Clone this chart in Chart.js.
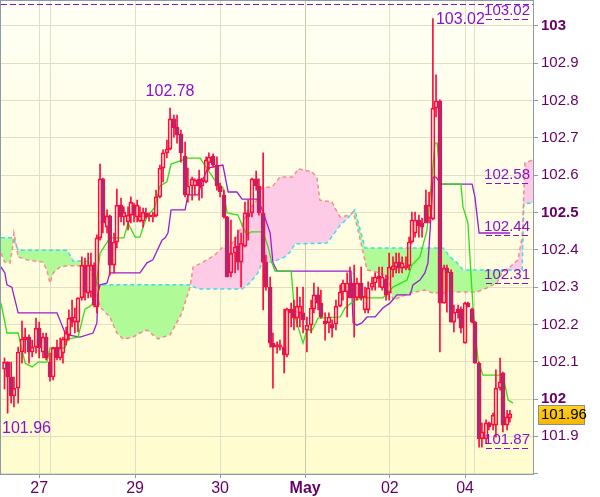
<!DOCTYPE html>
<html>
<head>
<meta charset="utf-8">
<script src="https://cdn.jsdelivr.net/npm/chart.js@4.4.1/dist/chart.umd.min.js"></script>
<style>
  html, body { margin: 0; padding: 0; background: #fff; overflow: hidden; }
  canvas { display: block; }
</style>
</head>
<body>
<canvas id="chart" width="600" height="497"></canvas>
<script>
// hourly candles, time in hours from the left edge
const hours = [
  1.0, 1.9, 2.9, 3.7, 4.9, 6.0, 6.9, 8.0, 8.9, 10.0,
  10.9, 12.0, 12.9, 14.0, 14.9, 16.0, 16.9, 17.7, 18.6, 19.4,
  20.3, 21.1, 22.0, 23.1, 24.0, 24.9, 25.7, 26.6, 27.4, 28.3,
  29.1, 30.3, 31.1, 32.3, 33.1, 34.3, 35.1, 36.3, 37.1, 38.0,
  38.9, 39.7, 40.6, 41.4, 42.3, 43.4, 44.3, 45.4, 46.3, 47.4,
  48.3, 49.4, 50.3, 51.4, 52.6, 53.4, 54.6, 55.4, 56.6, 57.4,
  58.6, 59.4, 60.6, 61.7, 62.6, 63.7, 64.6, 65.7, 66.9, 67.7,
  68.6, 69.7, 70.6, 71.7, 72.9, 73.7, 74.9, 75.7, 76.9, 77.7,
  78.9, 79.7, 80.9, 81.7, 82.9, 83.7, 84.6, 85.4, 86.3, 87.4,
  88.6, 89.4, 90.6, 91.4, 92.6, 93.7, 94.6, 95.7, 96.9, 97.7,
  98.9, 99.7, 100.9, 101.7, 102.9, 104.0, 104.9, 106.0, 106.9, 108.0,
  108.9, 110.0, 110.9, 112.0, 112.9, 113.7, 114.6, 115.7, 116.6, 117.4,
  118.3, 119.4, 120.3, 121.4, 122.3, 123.4, 124.3, 125.4, 126.6, 127.4,
  128.6, 129.4, 130.6, 131.4, 132.6, 133.4, 134.6, 135.4, 136.6, 137.4,
  138.6, 139.4, 140.6, 141.4, 142.6, 143.4, 144.6, 145.4
];
const opens = [
  102.080, 102.099, 102.059, 102.008, 102.029, 102.126, 102.158, 102.166, 102.126, 102.139,
  102.190, 102.126, 102.166, 102.099, 102.059, 102.139, 102.110, 102.123, 102.158, 102.172,
  102.220, 102.206, 102.206, 102.271, 102.357, 102.284, 102.287, 102.359, 102.247, 102.432,
  102.590, 102.461, 102.491, 102.359, 102.421, 102.520, 102.488, 102.475, 102.493, 102.520,
  102.488, 102.477, 102.477, 102.499, 102.488, 102.488, 102.491, 102.542, 102.619, 102.660,
  102.670, 102.751, 102.729, 102.710, 102.651, 102.547, 102.571, 102.571, 102.590, 102.571,
  102.582, 102.633, 102.651, 102.627, 102.571, 102.547, 102.488, 102.338, 102.391, 102.410,
  102.367, 102.410, 102.499, 102.499, 102.590, 102.571, 102.499, 102.367, 102.300, 102.150,
  102.139, 102.139, 102.139, 102.118, 102.241, 102.239, 102.217, 102.231, 102.231, 102.185,
  102.198, 102.241, 102.279, 102.257, 102.209, 102.204, 102.201, 102.201, 102.249, 102.287,
  102.287, 102.311, 102.311, 102.271, 102.311, 102.239, 102.239, 102.300, 102.311, 102.330,
  102.298, 102.322, 102.284, 102.346, 102.354, 102.367, 102.351, 102.351, 102.357, 102.421,
  102.445, 102.480, 102.472, 102.520, 102.485, 102.483, 102.780, 102.799, 102.257, 102.351,
  102.340, 102.206, 102.241, 102.241, 102.150, 102.257, 102.241, 102.206, 102.096, 101.893,
  101.893, 101.936, 101.930, 101.930, 102.029, 102.070, 101.930, 101.949
];
const highs = [
  102.110, 102.100, 102.099, 102.059, 102.139, 102.209, 102.190, 102.172, 102.158, 102.217,
  102.206, 102.177, 102.177, 102.123, 102.139, 102.158, 102.164, 102.166, 102.193, 102.239,
  102.265, 102.244, 102.271, 102.381, 102.378, 102.391, 102.391, 102.365, 102.440, 102.630,
  102.592, 102.507, 102.493, 102.445, 102.563, 102.539, 102.515, 102.515, 102.542, 102.525,
  102.533, 102.515, 102.512, 102.512, 102.499, 102.501, 102.560, 102.627, 102.668, 102.694,
  102.780, 102.761, 102.761, 102.721, 102.689, 102.619, 102.595, 102.590, 102.614, 102.592,
  102.649, 102.660, 102.657, 102.649, 102.579, 102.560, 102.490, 102.480, 102.434, 102.453,
  102.445, 102.528, 102.533, 102.592, 102.611, 102.590, 102.660, 102.386, 102.327, 102.177,
  102.153, 102.158, 102.241, 102.244, 102.257, 102.265, 102.300, 102.273, 102.300, 102.220,
  102.265, 102.311, 102.300, 102.292, 102.231, 102.231, 102.212, 102.265, 102.306, 102.319,
  102.338, 102.354, 102.359, 102.324, 102.354, 102.300, 102.314, 102.327, 102.338, 102.354,
  102.354, 102.332, 102.391, 102.381, 102.391, 102.391, 102.381, 102.381, 102.434, 102.501,
  102.501, 102.493, 102.485, 102.560, 102.555, 103.020, 102.869, 102.802, 102.359, 102.359,
  102.346, 102.252, 102.252, 102.247, 102.260, 102.260, 102.244, 102.208, 102.099, 101.936,
  101.944, 101.938, 101.962, 102.078, 102.110, 102.072, 101.970, 101.970
];
const lows = [
  102.027, 101.962, 101.989, 101.979, 101.989, 102.096, 102.123, 102.096, 102.113, 102.123,
  102.110, 102.110, 102.105, 102.048, 102.051, 102.105, 102.105, 102.096, 102.145, 102.158,
  102.193, 102.177, 102.180, 102.265, 102.265, 102.271, 102.273, 102.247, 102.231, 102.426,
  102.445, 102.445, 102.332, 102.338, 102.405, 102.475, 102.466, 102.453, 102.472, 102.475,
  102.475, 102.475, 102.461, 102.485, 102.477, 102.475, 102.488, 102.539, 102.582, 102.646,
  102.668, 102.702, 102.686, 102.635, 102.542, 102.528, 102.533, 102.547, 102.533, 102.539,
  102.579, 102.614, 102.622, 102.560, 102.542, 102.485, 102.327, 102.327, 102.338, 102.346,
  102.300, 102.408, 102.426, 102.488, 102.560, 102.493, 102.239, 102.292, 102.139, 102.029,
  102.123, 102.131, 102.070, 102.113, 102.193, 102.185, 102.193, 102.193, 102.177, 102.126,
  102.177, 102.231, 102.239, 102.217, 102.158, 102.177, 102.166, 102.185, 102.247, 102.265,
  102.220, 102.271, 102.166, 102.265, 102.265, 102.231, 102.231, 102.292, 102.292, 102.300,
  102.292, 102.265, 102.265, 102.327, 102.338, 102.338, 102.338, 102.346, 102.346, 102.418,
  102.434, 102.434, 102.434, 102.472, 102.472, 102.480, 102.756, 102.126, 102.257, 102.233,
  102.206, 102.180, 102.217, 102.177, 102.150, 102.247, 102.204, 102.096, 101.871, 101.871,
  101.882, 101.917, 101.917, 101.898, 102.024, 101.912, 101.917, 101.938
];
const closes = [
  102.099, 102.059, 102.008, 102.029, 102.126, 102.161, 102.166, 102.126, 102.139, 102.190,
  102.137, 102.166, 102.110, 102.059, 102.137, 102.110, 102.137, 102.161, 102.180, 102.217,
  102.206, 102.220, 102.271, 102.359, 102.287, 102.359, 102.359, 102.252, 102.432, 102.590,
  102.472, 102.491, 102.359, 102.421, 102.520, 102.488, 102.501, 102.493, 102.528, 102.493,
  102.520, 102.491, 102.501, 102.488, 102.493, 102.493, 102.542, 102.619, 102.660, 102.670,
  102.751, 102.727, 102.708, 102.660, 102.547, 102.571, 102.590, 102.587, 102.571, 102.587,
  102.641, 102.649, 102.627, 102.571, 102.555, 102.488, 102.327, 102.391, 102.408, 102.367,
  102.418, 102.499, 102.488, 102.590, 102.571, 102.499, 102.367, 102.300, 102.150, 102.139,
  102.145, 102.145, 102.118, 102.241, 102.231, 102.217, 102.249, 102.249, 102.212, 102.198,
  102.244, 102.279, 102.257, 102.220, 102.201, 102.220, 102.190, 102.249, 102.287, 102.311,
  102.311, 102.271, 102.271, 102.311, 102.271, 102.276, 102.298, 102.311, 102.327, 102.322,
  102.327, 102.279, 102.354, 102.357, 102.367, 102.351, 102.365, 102.357, 102.421, 102.480,
  102.480, 102.464, 102.461, 102.472, 102.520, 102.780, 102.799, 102.257, 102.351, 102.338,
  102.206, 102.233, 102.231, 102.190, 102.257, 102.247, 102.206, 102.096, 101.893, 101.912,
  101.936, 101.925, 101.957, 102.029, 102.046, 101.930, 101.952, 101.960
];

// Tenkan (green) and Kijun (purple)
const tenkanHours = [0, 1.7, 4.9, 6.9, 8.9, 10.6, 13.1, 14.0, 18.3, 19.1, 22.0, 24.0, 26.0, 27.4, 28.3, 31.1, 35.1, 36.3, 38.3, 39.7,
  40.6, 41.7, 44.0, 45.4, 47.4, 48.6, 53.4, 56.9, 59.1, 61.1, 63.4, 64.6, 67.7, 68.9, 70.3, 71.4, 74.9, 76.3, 77.4, 78.3,
  82.9, 84.0, 86.3, 87.4, 88.9, 90.6, 96.9, 98.3, 101.1, 103.4, 109.1, 112.0, 116.0, 117.4, 119.7, 121.7, 123.1, 124.0, 124.6, 125.7,
  131.4, 132.0, 133.4, 134.9, 136.3, 137.7, 143.4, 144.9, 146.3];
const tenkan = [102.257, 102.177, 102.177, 102.096, 102.086, 102.099, 102.099, 102.137, 102.137, 102.161, 102.166, 102.241, 102.252, 102.319, 102.391, 102.432, 102.432, 102.472, 102.434, 102.434,
  102.461, 102.488, 102.515, 102.571, 102.582, 102.630, 102.646, 102.646, 102.614, 102.587, 102.566, 102.499, 102.493, 102.466, 102.440, 102.448, 102.448, 102.408, 102.365, 102.343,
  102.343, 102.220, 102.150, 102.185, 102.185, 102.217, 102.220, 102.244, 102.265, 102.271, 102.271, 102.300, 102.319, 102.359, 102.381, 102.453, 102.592, 102.686, 102.686, 102.576,
  102.576, 102.515, 102.472, 102.239, 102.105, 102.064, 102.064, 101.997, 101.989];
const kijunHours = [0, 1.1, 1.7, 3.1, 4.9, 16.0, 18.3, 19.1, 22.6, 26.3, 27.4, 27.7, 28.3, 30.3, 31.1, 39.7, 41.7, 43.4, 46.0, 46.9,
  47.7, 48.6, 52.6, 53.4, 56.3, 57.4, 59.1, 63.4, 64.9, 67.4, 68.9, 73.4, 74.9, 76.9, 77.7, 78.9, 100.0, 100.6, 101.7, 103.1,
  104.6, 106.9, 109.1, 111.1, 113.1, 116.9, 117.7, 119.7, 121.1, 122.0, 123.1, 123.4, 124.3, 125.7, 134.6, 135.4, 136.6, 145.4];
const kijun = [102.354, 102.338, 102.306, 102.300, 102.231, 102.231, 102.177, 102.172, 102.166, 102.177, 102.204, 102.284, 102.306, 102.311, 102.338, 102.338, 102.365, 102.373, 102.426, 102.432,
  102.445, 102.507, 102.507, 102.547, 102.547, 102.582, 102.619, 102.627, 102.555, 102.555, 102.536, 102.536, 102.501, 102.445, 102.365, 102.343, 102.343, 102.204, 102.198, 102.204,
  102.220, 102.220, 102.244, 102.257, 102.279, 102.279, 102.306, 102.319, 102.338, 102.365, 102.525, 102.595, 102.595, 102.576, 102.576, 102.542, 102.445, 102.445];

// cloud: Senkou span A (cyan) and span B (salmon)
const spanAHours = [0, 3.4, 4.9, 18.9, 20.6, 25.4, 26.3, 27.7, 54.0, 56.3, 68.9, 71.1, 73.4, 74.6, 77.4, 79.1, 81.1, 82.6, 84.0, 93.1,
  94.9, 96.9, 98.9, 101.1, 104.0, 126.3, 128.3, 130.3, 132.0, 148.9, 149.4, 152];
const spanA = [102.432, 102.432, 102.399, 102.399, 102.370, 102.370, 102.346, 102.306, 102.306, 102.295, 102.295, 102.311, 102.338, 102.367, 102.367, 102.373, 102.381, 102.394, 102.416, 102.418,
  102.440, 102.466, 102.483, 102.507, 102.405, 102.405, 102.381, 102.365, 102.346, 102.346, 102.525, 102.525];
const spanBHours = [0, 1.1, 2.6, 3.4, 3.7, 4.6, 4.9, 7.4, 12.0, 13.1, 14.0, 14.9, 16.9, 18.9, 25.4, 26.9, 28.3, 31.1, 33.1, 34.9,
  37.7, 39.7, 41.7, 43.4, 44.9, 46.3, 48.3, 50.3, 51.7, 54.0, 54.9, 57.4, 61.1, 63.1, 64.9, 67.4, 70.6, 72.6, 74.6, 77.4,
  79.7, 83.4, 84.9, 88.9, 90.3, 91.1, 94.6, 95.4, 96.9, 99.7, 100.6, 101.7, 104.6, 108.3, 110.6, 112.0, 116.9, 121.1, 123.4, 126.3,
  129.1, 136.0, 138.9, 141.7, 143.1, 145.4, 147.7, 148.9, 149.7, 152];
const spanB = [102.391, 102.367, 102.365, 102.413, 102.445, 102.399, 102.381, 102.373, 102.367, 102.346, 102.311, 102.338, 102.354, 102.357, 102.357, 102.300, 102.247, 102.220, 102.177, 102.161,
  102.166, 102.177, 102.185, 102.172, 102.161, 102.166, 102.172, 102.206, 102.231, 102.300, 102.354, 102.365, 102.386, 102.405, 102.405, 102.432, 102.507, 102.525, 102.568, 102.568,
  102.595, 102.595, 102.617, 102.609, 102.592, 102.533, 102.528, 102.512, 102.488, 102.493, 102.501, 102.466, 102.346, 102.338, 102.327, 102.265, 102.284, 102.292, 102.284, 102.284,
  102.287, 102.287, 102.298, 102.311, 102.338, 102.354, 102.373, 102.434, 102.633, 102.641];

// axes
const dayTicks = [10.9, 14.0, 38.3, 62.6, 86.9, 111.1, 132.6, 135.4];
const dayLabels = ['27', '', '29', '30', 'May', '02', '04', ''];
const priceTicks = [101.8, 101.9, 102.0, 102.1, 102.2, 102.3, 102.4, 102.5, 102.6, 102.7, 102.8, 102.9, 103.0];
const boldPrices = [102.0, 102.5, 103.0];

// marked levels on the right and the top dashed level
const markLevels = [103.02, 102.58, 102.44, 102.31, 101.87];
const topLevel = 103.06;
const peakHigh = 50, spikeHigh = 125, earlyLow = 1;

const FONT = '"Liberation Sans", Arial, sans-serif';
const LABEL_PURPLE = '#8a10cc';
const AXIS_PURPLE = '#660066';
const FRAME = '#8b9bab';

const xy = (xs, ys) => xs.map((x, i) => ({ x: x, y: ys[i] }));
const up = closes.map((c, i) => c >= opens[i]);

const bodies = hours.map((t, i) => ({ x: t, y: [opens[i], closes[i]] }));
const upperWicks = hours.map((t, i) => ({ x: t, y: [Math.max(opens[i], closes[i]), highs[i]] }));
const lowerWicks = hours.map((t, i) => ({ x: t, y: [lows[i], Math.min(opens[i], closes[i])] }));

const isBold = v => boldPrices.some(b => Math.abs(b - v) < 1e-6);

const framePlugin = {
  id: 'frame',
  beforeDraw(chart) {
    const { ctx, chartArea: a } = chart;
    ctx.save();
    ctx.fillStyle = '#fff';
    ctx.fillRect(0, 0, chart.width, chart.height);
    const g = ctx.createLinearGradient(0, a.top, 0, a.bottom);
    g.addColorStop(0, '#fffff4');
    g.addColorStop(1, '#fffcce');
    ctx.fillStyle = g;
    ctx.fillRect(a.left, a.top, a.right - a.left, a.bottom - a.top);
    ctx.restore();
  },
  afterDatasetsDraw(chart) {
    const { ctx, chartArea: a, scales } = chart;
    const px = v => scales.x.getPixelForValue(v);
    const py = v => scales.y.getPixelForValue(v);
    ctx.save();
    ctx.beginPath();
    ctx.rect(a.left, a.top, a.right - a.left, a.bottom - a.top);
    ctx.clip();
    ctx.strokeStyle = LABEL_PURPLE;
    ctx.fillStyle = LABEL_PURPLE;
    ctx.lineWidth = 1;
    ctx.setLineDash([6, 3]);
    // top dashed level
    ctx.beginPath();
    ctx.moveTo(a.left, Math.round(py(topLevel)) + 0.5);
    ctx.lineTo(a.right, Math.round(py(topLevel)) + 0.5);
    ctx.stroke();
    ctx.font = '15px ' + FONT;
    ctx.textAlign = 'right';
    ctx.textBaseline = 'bottom';
    markLevels.forEach(v => {
      const y = Math.round(py(v)) + 0.5;
      ctx.beginPath();
      ctx.moveTo(a.right - 47, y);
      ctx.lineTo(a.right - 3, y);
      ctx.stroke();
      ctx.fillText(v.toFixed(2), a.right - 3, y - 1);
    });
    ctx.setLineDash([]);
    // highs and lows
    ctx.font = '16px ' + FONT;
    ctx.textAlign = 'center';
    ctx.textBaseline = 'bottom';
    ctx.fillText(highs[peakHigh].toFixed(2), px(hours[peakHigh]), py(highs[peakHigh]) - 8);
    ctx.textAlign = 'left';
    ctx.textBaseline = 'middle';
    ctx.fillText(highs[spikeHigh].toFixed(2), px(hours[spikeHigh]) + 3, py(highs[spikeHigh]) + 1);
    const lowText = lows[earlyLow].toFixed(2);
    const w = ctx.measureText(lowText).width;
    ctx.textBaseline = 'top';
    ctx.fillText(lowText, Math.max(a.left + 1, px(hours[earlyLow]) - w / 2), py(lows[earlyLow]) + 7);
    ctx.restore();
  },
  afterDraw(chart) {
    const { ctx, chartArea: a, scales } = chart;
    ctx.save();
    ctx.strokeStyle = FRAME;
    ctx.lineWidth = 1;
    ctx.strokeRect(a.left - 0.5, a.top - 0.5, a.right - a.left + 1, a.bottom - a.top + 1);
    // last price box
    const last = closes[closes.length - 1];
    const y = Math.round(scales.y.getPixelForValue(last));
    const g = ctx.createLinearGradient(0, y - 9, 0, y + 10);
    g.addColorStop(0, '#ffd21e');
    g.addColorStop(1, '#f5b800');
    ctx.fillStyle = g;
    ctx.fillRect(a.right + 5, y - 9, 46, 19);
    ctx.strokeStyle = '#8c8c8c';
    ctx.strokeRect(a.right + 5.5, y - 8.5, 46, 19);
    ctx.fillStyle = '#000';
    ctx.font = '15px ' + FONT;
    ctx.textAlign = 'left';
    ctx.textBaseline = 'middle';
    ctx.fillText(last.toFixed(2), a.right + 8, y + 1);
    ctx.restore();
  }
};

new Chart(document.getElementById('chart'), {
  type: 'bar',
  data: {
    datasets: [
      {
        type: 'line', label: 'Span A', data: xy(spanAHours, spanA), order: 6,
        borderColor: '#3fdcee', borderWidth: 1.5, borderDash: [4, 3], pointRadius: 0, tension: 0,
        fill: { target: 1, above: '#b0fa98', below: '#fdcbe6' }
      },
      {
        type: 'line', label: 'Span B', data: xy(spanBHours, spanB), order: 5,
        borderColor: '#f58c8c', borderWidth: 1.5, borderDash: [4, 3], pointRadius: 0, tension: 0, fill: false
      },
      {
        type: 'line', label: 'Kijun', data: xy(kijunHours, kijun), order: 3,
        borderColor: '#9a1ecc', borderWidth: 1.3, pointRadius: 0, tension: 0, fill: false
      },
      {
        type: 'line', label: 'Tenkan', data: xy(tenkanHours, tenkan), order: 2,
        borderColor: '#2ee014', borderWidth: 1.3, pointRadius: 0, tension: 0, fill: false
      },
      {
        label: 'upper wick', data: upperWicks, order: 1,
        backgroundColor: '#ff0a3c', barThickness: 1, borderWidth: 0
      },
      {
        label: 'lower wick', data: lowerWicks, order: 1,
        backgroundColor: '#ff0a3c', barThickness: 1, borderWidth: 0
      },
      {
        label: 'body', data: bodies, order: 0,
        backgroundColor: up.map(u => u ? 'rgba(0,0,0,0)' : '#a82a78'),
        borderColor: '#ff0a3c', borderWidth: 1, borderSkipped: false,
        barThickness: 4, minBarLength: 2
      }
    ]
  },
  options: {
    responsive: false,
    animation: false,
    events: [],
    layout: { padding: { left: 1, top: 1, right: 0, bottom: 0 } },
    datasets: { bar: { grouped: false } },
    plugins: { legend: { display: false }, tooltip: { enabled: false } },
    scales: {
      x: {
        type: 'linear', min: 0, max: 152, offset: false,
        border: { display: false },
        grid: {
          offset: false,
          color: ctx => dayLabels[ctx.index] === 'May' ? '#c9c8ab' : '#e0dfc3',
          tickColor: ctx => dayLabels[ctx.index] ? FRAME : 'rgba(0,0,0,0)',
          tickLength: 4
        },
        afterBuildTicks: s => { s.ticks = dayTicks.map(v => ({ value: v })); },
        afterFit: s => { s.height = 23; s.paddingLeft = 0; s.paddingRight = 0; },
        ticks: {
          autoSkip: false, maxRotation: 0, padding: 1, color: AXIS_PURPLE,
          callback: (v, i) => dayLabels[i],
          font: ctx => ({ family: FONT, size: 16, weight: dayLabels[ctx.index] === 'May' ? 'bold' : 'normal' })
        }
      },
      y: {
        type: 'linear', position: 'right', min: 101.799, max: 103.067,
        border: { display: false },
        grid: { color: '#e0dfc3', tickColor: FRAME, tickLength: 5 },
        afterBuildTicks: s => { s.ticks = priceTicks.map(v => ({ value: v })); },
        afterFit: s => { s.width = 67; s.paddingTop = 0; s.paddingBottom = 0; },
        ticks: {
          padding: 3, color: AXIS_PURPLE,
          callback: v => v < 101.85 ? '' : String(Math.round(v * 10) / 10),
          font: ctx => ({ family: FONT, size: 15, weight: (ctx.tick && isBold(ctx.tick.value)) ? 'bold' : 'normal' })
        }
      }
    }
  },
  plugins: [framePlugin]
});
</script>
</body>
</html>
